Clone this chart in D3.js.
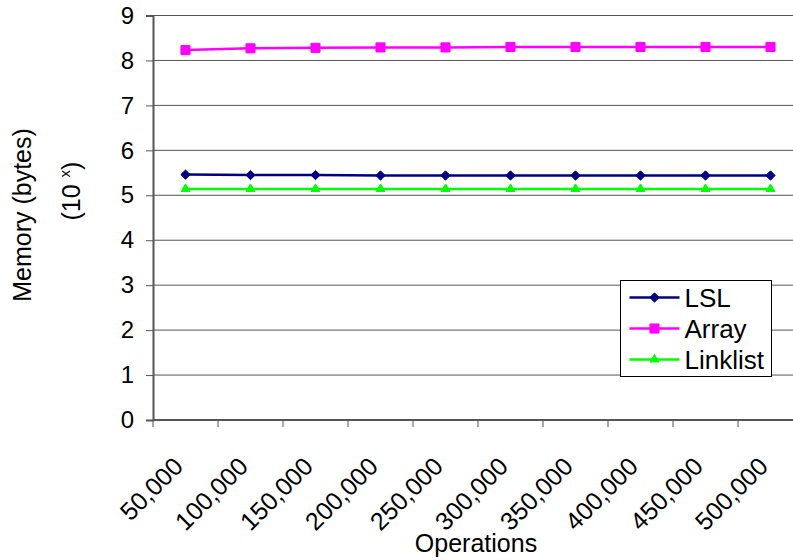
<!DOCTYPE html>
<html>
<head>
<meta charset="utf-8">
<script src="https://cdn.jsdelivr.net/npm/d3@7"></script>
<style>
  html, body { margin: 0; padding: 0; background: #fff; overflow: hidden; }
  svg { display: block; font-family: "Liberation Sans", Arial, sans-serif; }
</style>
</head>
<body>
<svg id="chart" width="793" height="560"></svg>
<script>
// Operation counts along the x axis
const operations = ["50,000", "100,000", "150,000", "200,000", "250,000",
                    "300,000", "350,000", "400,000", "450,000", "500,000"];
// Memory use, as powers of ten (10^x bytes)
const lslValues      = [5.46, 5.45, 5.45, 5.44, 5.44, 5.44, 5.44, 5.44, 5.44, 5.44];
const arrayValues    = [8.23, 8.27, 8.28, 8.29, 8.29, 8.30, 8.30, 8.30, 8.30, 8.30];
const linklistValues = [5.14, 5.14, 5.14, 5.14, 5.14, 5.14, 5.14, 5.14, 5.14, 5.14];
const yTicks = [0, 1, 2, 3, 4, 5, 6, 7, 8, 9];

const series = [
  { name: "LSL",      values: lslValues,      color: "#000080", symbol: d3.symbolDiamond2,  size: 55 },
  { name: "Array",    values: arrayValues,    color: "#FF00FF", symbol: d3.symbolSquare2,   size: 105 },
  { name: "Linklist", values: linklistValues, color: "#00FF00", symbol: d3.symbolTriangle2, size: 55 }
];

const svg = d3.select("#chart");
const plot = { left: 153, right: 803, top: 15.5, bottom: 420 };

const x = d3.scaleBand().domain(operations).range([plot.left, plot.right]);
const y = d3.scaleLinear().domain([0, 9]).range([plot.bottom, plot.top]);

// Horizontal gridlines
svg.append("g")
  .selectAll("line")
  .data(yTicks)
  .join("line")
  .attr("x1", plot.left).attr("x2", plot.right)
  .attr("y1", d => y(d)).attr("y2", d => y(d))
  .attr("stroke", "#555").attr("stroke-width", 1);

// Y axis
const yAxis = svg.append("g")
  .attr("transform", `translate(${plot.left},0)`)
  .call(d3.axisLeft(y).tickValues(yTicks).tickFormat(d3.format("d")).tickSize(7).tickPadding(12));
yAxis.select(".domain").attr("stroke", "#555").attr("stroke-width", 2);
yAxis.selectAll(".tick line").attr("stroke", "#555");
yAxis.selectAll(".tick text").attr("font-size", 24).attr("fill", "#000")
  .attr("font-family", "Liberation Sans, Arial, sans-serif");

// X axis: ticks sit on the category boundaries
const xAxis = svg.append("g")
  .attr("transform", `translate(0,${plot.bottom})`);
xAxis.append("line")
  .attr("x1", plot.left).attr("x2", plot.right)
  .attr("y1", 0).attr("y2", 0)
  .attr("stroke", "#555").attr("stroke-width", 2);
xAxis.selectAll("line.tick")
  .data(operations)
  .join("line")
  .attr("class", "tick")
  .attr("x1", d => x(d)).attr("x2", d => x(d))
  .attr("y1", 0).attr("y2", 7)
  .attr("stroke", "#555");
xAxis.selectAll("text.label")
  .data(operations)
  .join("text")
  .attr("class", "label")
  .attr("transform", d => `translate(${x(d) + x.bandwidth() / 2 - 1},48) rotate(-45)`)
  .attr("text-anchor", "end")
  .attr("font-size", 25)
  .text(d => d);

// Series lines and markers
const line = d3.line()
  .x((d, i) => x(operations[i]) + x.bandwidth() / 2)
  .y(d => y(d));

series.forEach(s => {
  const g = svg.append("g");
  g.append("path")
    .datum(s.values)
    .attr("d", line)
    .attr("fill", "none")
    .attr("stroke", s.color)
    .attr("stroke-width", 2.5);
  g.selectAll("path.marker")
    .data(s.values)
    .join("path")
    .attr("class", "marker")
    .attr("d", d3.symbol().type(s.symbol).size(s.size))
    .attr("transform", (d, i) => `translate(${x(operations[i]) + x.bandwidth() / 2},${y(d)})`)
    .attr("fill", s.color)
    .attr("stroke", s.color)
    .attr("stroke-width", 1);
});

// Axis titles
svg.append("text")
  .attr("transform", "translate(31,215) rotate(-90)")
  .attr("text-anchor", "middle")
  .attr("font-size", 25)
  .text("Memory (bytes)");
const powTitle = svg.append("text")
  .attr("transform", "translate(80,191) rotate(-90)")
  .attr("text-anchor", "middle")
  .attr("font-size", 25);
powTitle.append("tspan").text("(10 ");
powTitle.append("tspan").attr("font-size", 15).attr("dy", -10).text("x");
powTitle.append("tspan").attr("dy", 10).text(")");

svg.append("text")
  .attr("x", 476).attr("y", 552)
  .attr("text-anchor", "middle")
  .attr("font-size", 25)
  .text("Operations");

// Legend
const legend = svg.append("g").attr("transform", "translate(620.5,280.5)");
legend.append("rect")
  .attr("x", 0).attr("y", 0).attr("width", 151).attr("height", 96)
  .attr("fill", "#fff").attr("stroke", "#000").attr("stroke-width", 1);
series.forEach((s, i) => {
  const row = legend.append("g").attr("transform", `translate(0,${17 + i * 31})`);
  row.append("line")
    .attr("x1", 9).attr("x2", 59).attr("y1", 0).attr("y2", 0)
    .attr("stroke", s.color).attr("stroke-width", 2.5);
  row.append("path")
    .attr("d", d3.symbol().type(s.symbol).size(s.size))
    .attr("transform", "translate(34,0)")
    .attr("fill", s.color).attr("stroke", s.color);
  row.append("text")
    .attr("x", 64).attr("y", 0).attr("dy", "0.36em")
    .attr("font-size", 26)
    .text(s.name);
});
</script>
</body>
</html>
